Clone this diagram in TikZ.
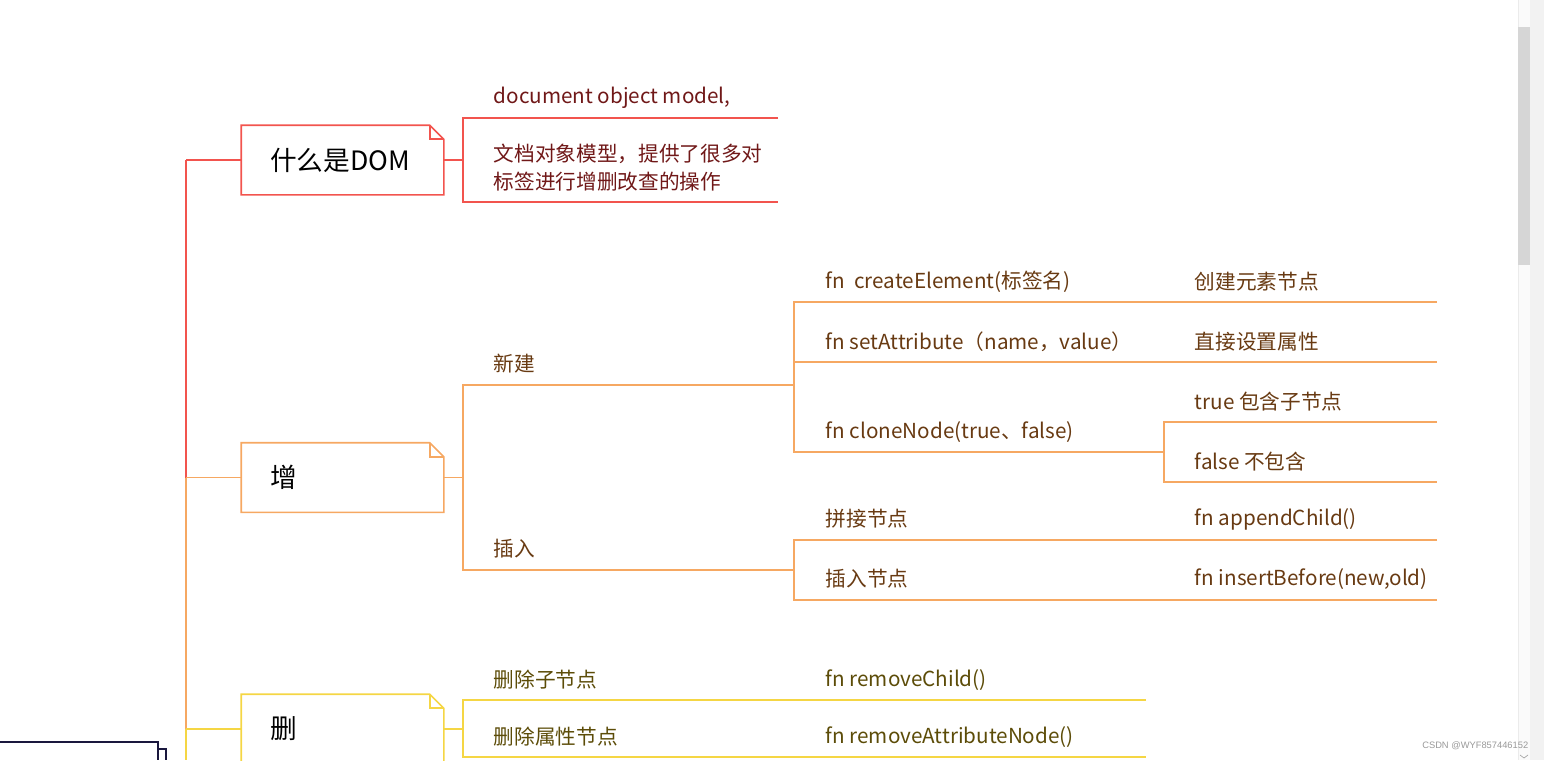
\documentclass[tikz,border=0pt]{standalone}
\usepackage{fontspec}
\setmainfont{Noto Sans CJK SC}
\newfontfamily\markfont{Liberation Sans}
\usetikzlibrary{positioning}
\definecolor{domred}{RGB}{242, 84, 78}
\definecolor{addorange}{RGB}{246, 168, 98}
\definecolor{delyellow}{RGB}{245, 214, 68}
\definecolor{rootnavy}{RGB}{26, 24, 62}
\definecolor{redtext}{RGB}{112, 24, 24}
\definecolor{orangetext}{RGB}{104, 58, 18}
\definecolor{yellowtext}{RGB}{92, 76, 8}

\tikzset{
  topic/.style={minimum width=150.75pt, minimum height=51pt, inner xsep=21pt,
    text width=108.75pt, align=left, font=\fontsize{20}{24}\selectfont},
  leaf/.style={anchor=west, inner sep=0pt, align=left, yshift=-1.5pt,
    font=\fontsize{15.5}{21}\selectfont},
}
% outline of a topic box with a folded corner
\newcommand{\dogear}[2]{%
  \draw[#2] (#1.south west) -- (#1.north west) -- ([xshift=-10.5pt]#1.north east)
    -- ([yshift=-10.5pt]#1.north east) -- (#1.south east) -- cycle;
  \draw[#2] ([xshift=-10.5pt]#1.north east) |- ([yshift=-10.5pt]#1.north east);
}

\begin{document}
\begin{tikzpicture}[x=0.75pt, y=-0.75pt, line width=1.15pt]
  \useasboundingbox (0,0) rectangle (1544,760);

  % scrollbar of the page
  \fill[black!5] (1530,0) rectangle (1544,760);
  \fill[black!2] (1518,0) rectangle (1530,760);
  \draw[black!8, line width=0.6pt] (1518,0) -- (1518,760);
  \fill[black!16] (1518,27) rectangle (1530,265);
  \draw[black!35, line width=0.5pt] (1520,755) -- (1524,758) -- (1528,755);
  \node[font=\markfont\fontsize{7}{8}\selectfont, text=black!40, anchor=east, inner sep=0pt]
    (mark) at (1529,746) {CSDN @WYF857446152};

  % root box, mostly outside the view
  \draw[rootnavy] (0,742) -- (158,742) -- (158,760);
  \draw[rootnavy] (158,749) -- (166,749) -- (166,760);

  % topics
  \node[topic] (dom) at (342.5,160) {什么是DOM};
  \node[topic] (add) at (342.5,477.5) {增};
  \node[topic] (del) at (342.5,729) {删};
  \dogear{dom}{domred}
  \dogear{add}{addorange}
  \dogear{del}{delyellow}

  \coordinate (t1) at (186,160);
  \coordinate (t2) at (186,477.5);
  \coordinate (t3) at (186,729);
  \coordinate (t4) at (186,760);
  \draw[domred] (t1) -- (t2) (t1) -- (dom.west);
  \draw[addorange] (t2) -- (t3) (t2) -- (add.west);
  \draw[delyellow] (t3) -- (t4) (t3) -- (del.west);

  % 什么是DOM
  \coordinate (domfork) at (463,160);
  \draw[domred] (dom.east) -- (domfork);
  \draw[domred] (778,118) -| (463,202) -- (778,202);
  \node[leaf, redtext] (dommodel) at (493,96) {document object model,};
  \node[leaf, redtext] (domdesc) at (493,166) {文档对象模型，提供了很多对\\标签进行增删改查的操作};

  % 增
  \coordinate (addfork) at (463,477.5);
  \draw[addorange] (add.east) -- (addfork);
  \draw[addorange] (794,385) -| (463,570) -- (794,570);
  \node[leaf, orangetext] (create) at (493,362) {新建};
  \node[leaf, orangetext] (insert) at (493,547) {插入};

  \coordinate (createfork) at (794,385);
  \draw[addorange] (1437,302) -| (794,452) -- (1164,452);
  \draw[addorange] (794,362) -- (1437,362);
  \node[leaf, orangetext] (createel) at (825,280) {fn\ \ createElement(标签名)};
  \node[leaf, orangetext] (createelinfo) at (1194,280) {创建元素节点};
  \node[leaf, orangetext] (setattr) at (825,340) {fn setAttribute（name，value）};
  \node[leaf, orangetext] (setattrinfo) at (1194,340) {直接设置属性};
  \node[leaf, orangetext] (clone) at (825,430) {fn cloneNode(true、false)};

  \coordinate (clonefork) at (1164,452);
  \draw[addorange] (1437,422) -| (1164,482) -- (1437,482);
  \node[leaf, orangetext] (clonetrue) at (1194,400) {true 包含子节点};
  \node[leaf, orangetext] (clonefalse) at (1194,460) {false 不包含};

  \coordinate (insertfork) at (794,570);
  \draw[addorange] (1437,540) -| (794,600) -- (1437,600);
  \node[leaf, orangetext] (append) at (825,517) {拼接节点};
  \node[leaf, orangetext] (appendfn) at (1194,517) {fn appendChild()};
  \node[leaf, orangetext] (before) at (825,577) {插入节点};
  \node[leaf, orangetext] (beforefn) at (1194,577) {fn insertBefore(new,old)};

  % 删
  \coordinate (delfork) at (463,729);
  \draw[delyellow] (del.east) -- (delfork);
  \draw[delyellow] (1146,700) -| (463,757) -- (1146,757);
  \node[leaf, yellowtext] (delchild) at (493,678) {删除子节点};
  \node[leaf, yellowtext] (delchildfn) at (825,678) {fn removeChild()};
  \node[leaf, yellowtext] (delattr) at (493,735) {删除属性节点};
  \node[leaf, yellowtext] (delattrfn) at (825,735) {fn removeAttributeNode()};
\end{tikzpicture}
\end{document}
